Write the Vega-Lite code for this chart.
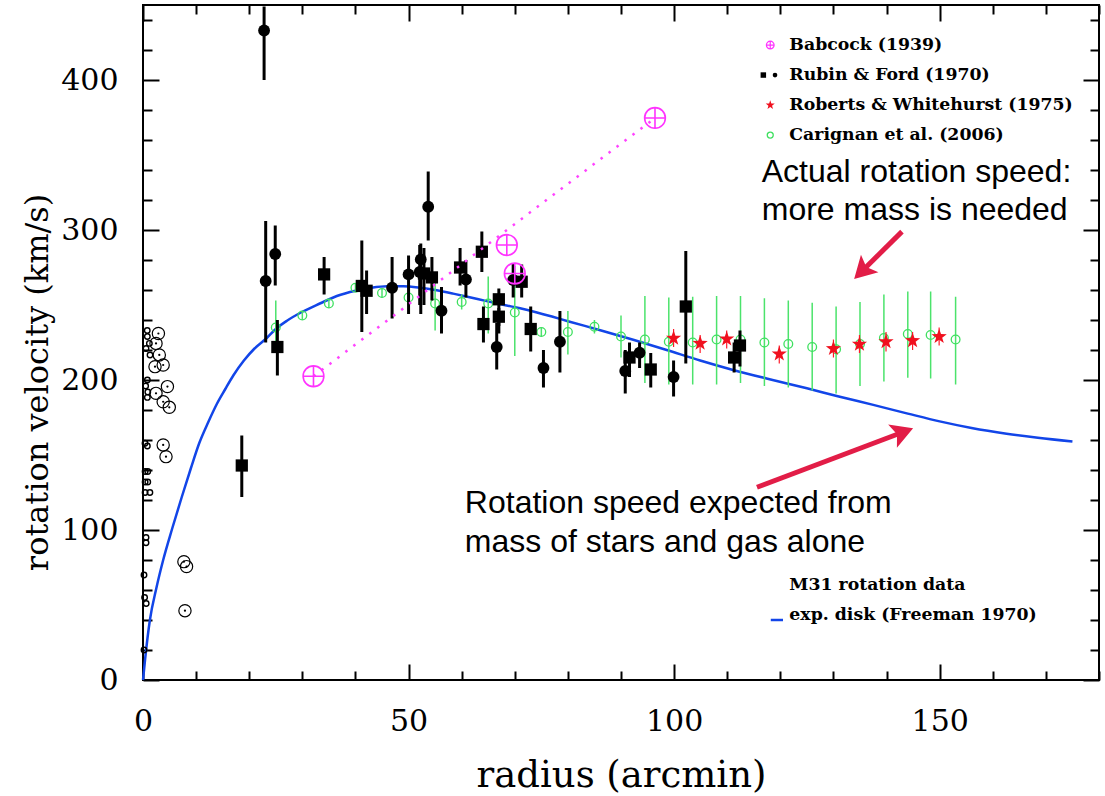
{
"$schema": "https://vega.github.io/schema/vega-lite/v6.json",
"width": 956, "height": 675,
"autosize": {"type": "none"},
"padding": {"left": 143, "top": 5, "right": 6, "bottom": 116},
"background": "white",
"config": {
  "view": {"stroke": "black", "strokeWidth": 2},
  "axis": {"grid": false, "domain": false, "tickColor": "black", "tickWidth": 2, "labelFont": "DejaVu Serif", "labelFontSize": 30, "labelColor": "black", "titleFont": "DejaVu Serif", "titleFontSize": 32, "titleFontWeight": "normal", "titleColor": "black", "labelFlush": false, "labelOverlap": false}
},
"datasets": {
  "curve": [{"r":0,"v":0},{"r":0.4,"v":14},{"r":1.3,"v":40},{"r":2.5,"v":61},{"r":3.8,"v":80},{"r":5.5,"v":101},{"r":7.3,"v":122},{"r":9,"v":141},{"r":10.6,"v":158},{"r":12.3,"v":172},{"r":13.9,"v":184},{"r":15.5,"v":194},{"r":17,"v":203},{"r":19,"v":213},{"r":21,"v":221},{"r":23.3,"v":228},{"r":25,"v":234},{"r":27.1,"v":239.5},{"r":30,"v":245.5},{"r":33.3,"v":251},{"r":36.5,"v":256},{"r":40,"v":259.5},{"r":43,"v":261.5},{"r":46,"v":262.5},{"r":49,"v":262.5},{"r":52.2,"v":261.5},{"r":55.3,"v":259.8},{"r":58.4,"v":257.6},{"r":61.5,"v":255.2},{"r":64.7,"v":252.6},{"r":68,"v":250},{"r":71,"v":247.8},{"r":74,"v":245.2},{"r":77,"v":242.3},{"r":80,"v":239.2},{"r":86.1,"v":233.2},{"r":92.3,"v":226.8},{"r":98.6,"v":220},{"r":104.9,"v":213},{"r":111.1,"v":206.7},{"r":117.4,"v":201},{"r":125,"v":194.5},{"r":131,"v":189},{"r":137.5,"v":183.4},{"r":144,"v":177.6},{"r":150,"v":172.4},{"r":156,"v":168},{"r":162.6,"v":164.2},{"r":168.5,"v":161.5},{"r":175,"v":159}],
  "rubinDots": [{"r":22.8,"v":433,"lo":400,"hi":449},{"r":23.1,"v":266,"lo":225,"hi":306},{"r":24.9,"v":284,"lo":263,"hi":303},{"r":46.9,"v":261.5,"lo":241,"hi":282},{"r":50,"v":270.4,"lo":244,"hi":283},{"r":52.3,"v":280.4,"lo":244,"hi":291},{"r":52.1,"v":272,"lo":250,"hi":290},{"r":53.7,"v":315.5,"lo":293,"hi":339},{"r":56.2,"v":246.2,"lo":231,"hi":262},{"r":60.8,"v":267,"lo":255,"hi":280},{"r":66.6,"v":222,"lo":207,"hi":238},{"r":69.7,"v":266.7,"lo":255,"hi":278},{"r":75.4,"v":208,"lo":195,"hi":220},{"r":78.5,"v":225.5,"lo":205,"hi":246},{"r":90.8,"v":206,"lo":191,"hi":220},{"r":93.5,"v":218.2,"lo":208,"hi":225},{"r":99.9,"v":202,"lo":189,"hi":213}],
  "rubinSquares": [{"r":18.6,"v":143,"lo":122,"hi":163},{"r":25.3,"v":222,"lo":203,"hi":240},{"r":34.1,"v":270.4,"lo":257,"hi":282},{"r":41.2,"v":262.7,"lo":232,"hi":293},{"r":42.1,"v":259.5,"lo":244,"hi":273},{"r":52.9,"v":271,"lo":250,"hi":288},{"r":54.4,"v":268.4,"lo":253,"hi":282},{"r":59.7,"v":275,"lo":263,"hi":288},{"r":63.8,"v":285.5,"lo":272,"hi":299},{"r":64.1,"v":237.3,"lo":225,"hi":249},{"r":67,"v":253.8,"lo":231,"hi":261},{"r":67,"v":242.2,"lo":236,"hi":248},{"r":71.3,"v":265.5,"lo":255,"hi":277},{"r":73,"v":234,"lo":219,"hi":249},{"r":91.6,"v":215,"lo":202,"hi":225},{"r":95.6,"v":207,"lo":195,"hi":218},{"r":102.2,"v":249,"lo":211,"hi":286},{"r":111.3,"v":215,"lo":205,"hi":225},{"r":112.4,"v":223,"lo":209,"hi":233}],
  "babcock": [{"r":32.1,"v":202.5},{"r":68.5,"v":290},{"r":70,"v":271},{"r":96.4,"v":374.7}],
  "roberts": [{"r":99.9,"v":227.8,"lo":222,"hi":234},{"r":104.9,"v":224.4,"lo":218,"hi":230},{"r":109.9,"v":227.3,"lo":221,"hi":233},{"r":119.8,"v":217.3,"lo":211,"hi":223},{"r":130,"v":220.9,"lo":215,"hi":227},{"r":134.9,"v":223.8,"lo":218,"hi":230},{"r":139.9,"v":225.5,"lo":219,"hi":232},{"r":144.9,"v":226.2,"lo":220,"hi":232},{"r":149.9,"v":228.9,"lo":223,"hi":235}],
  "carignan": [{"r":25,"v":235,"lo":218,"hi":253},{"r":30,"v":243,"lo":240,"hi":246},{"r":35,"v":251,"lo":248,"hi":254},{"r":40,"v":261.5,"lo":259,"hi":264},{"r":45,"v":258,"lo":255,"hi":261},{"r":50,"v":255,"lo":250,"hi":260},{"r":55,"v":251,"lo":233,"hi":269},{"r":60,"v":252,"lo":247,"hi":257},{"r":65,"v":251,"lo":231,"hi":269},{"r":70,"v":245,"lo":216,"hi":276},{"r":75,"v":232,"lo":229,"hi":235},{"r":80,"v":232,"lo":217,"hi":246},{"r":85,"v":235.5,"lo":231,"hi":240},{"r":90,"v":229,"lo":215,"hi":243},{"r":94.5,"v":227,"lo":198,"hi":256},{"r":99,"v":225.5,"lo":197,"hi":255},{"r":103.5,"v":225,"lo":197,"hi":255.5},{"r":108,"v":227,"lo":197,"hi":256},{"r":112.5,"v":227,"lo":198,"hi":256},{"r":117,"v":225,"lo":196,"hi":254.5},{"r":121.5,"v":224,"lo":195,"hi":253},{"r":126,"v":222,"lo":193,"hi":251.5},{"r":130.5,"v":220.5,"lo":191,"hi":249},{"r":135,"v":224,"lo":196,"hi":252},{"r":139.5,"v":228,"lo":199,"hi":257},{"r":144,"v":230.7,"lo":201.5,"hi":259},{"r":148.3,"v":230,"lo":201,"hi":259},{"r":153,"v":227,"lo":197,"hi":255.5}],
  "innerLarge": [{"r":2.9,"v":231},{"r":2.45,"v":224.4},{"r":3.07,"v":216.7},{"r":2.26,"v":208.9},{"r":3.8,"v":210},{"r":4.6,"v":195.6},{"r":2.45,"v":191.1},{"r":3.8,"v":185.5},{"r":4.95,"v":181.8},{"r":3.8,"v":156.7},{"r":4.33,"v":148.9},{"r":7.7,"v":78.9},{"r":8.2,"v":75.6},{"r":7.9,"v":46.2}],
  "innerSmall": [{"r":0.8,"v":233},{"r":0.82,"v":229},{"r":1.2,"v":224.4},{"r":0.57,"v":221},{"r":1.32,"v":216.7},{"r":0.82,"v":200},{"r":0.5,"v":196},{"r":0.9,"v":192},{"r":0.82,"v":188.4},{"r":0.38,"v":157.8},{"r":0.82,"v":156},{"r":0.4,"v":139},{"r":0.9,"v":139},{"r":0.4,"v":132},{"r":0.9,"v":132},{"r":1.3,"v":125},{"r":0.4,"v":125},{"r":0.57,"v":95},{"r":0.57,"v":91.5},{"r":0.19,"v":70},{"r":0.3,"v":55},{"r":0.6,"v":51},{"r":0.19,"v":20}],
  "keys": [{"series":"babcock","r":118.1,"v":423.3},{"series":"rubinSq","r":116.8,"v":403.3},{"series":"rubinDot","r":119.0,"v":403.3},{"series":"roberts","r":118.1,"v":383.3},{"series":"carignan","r":118.1,"v":363.3}],
  "keyText": [{"r":121.7,"v":423.3,"label":"Babcock (1939)"},{"r":121.7,"v":403.3,"label":"Rubin & Ford (1970)"},{"r":121.7,"v":383.3,"label":"Roberts & Whitehurst (1975)"},{"r":121.7,"v":363.3,"label":"Carignan et al. (2006)"},{"r":121.7,"v":63.3,"label":"M31 rotation data"},{"r":121.7,"v":43.3,"label":"exp. disk (Freeman 1970)"}],
  "diskKey": [{"r":118.2,"v":40,"r2":120.5}],
  "notes": [{"r":116.5,"v":338.7,"text":"Actual rotation speed:"},{"r":116.5,"v":313.3,"text":"more mass is needed"},{"r":60.6,"v":118,"text":"Rotation speed expected from"},{"r":60.6,"v":92,"text":"mass of stars and gas alone"}],
  "arrows": [{"id":"actual","r":142.9,"v":298.9,"r2":135.5,"v2":273,"tipR":133.9,"tipV":267.3},{"id":"expected","r":115.6,"v":128.5,"r2":142.9,"v2":165,"tipR":145.0,"tipV":167.8}]
},
"resolve": {"axis": {"x": "independent", "y": "independent"}},
"layer": [
  {"data": {"name": "curve"},
   "mark": {"type": "line", "color": "#1245e8", "strokeWidth": 2.5, "interpolate": "monotone"},
   "encoding": {
     "x": {"field": "r", "type": "quantitative", "scale": {"domain": [0, 180], "nice": false, "zero": false},
           "axis": {"orient": "bottom", "values": [0,10,20,30,40,50,60,70,80,90,100,110,120,130,140,150,160,170,180],
                    "tickSize": {"condition": {"test": "datum.value % 50 === 0", "value": -16}, "value": -9},
                    "labelExpr": "datum.value % 50 === 0 ? datum.label : ''", "labelPadding": 42,
                    "title": "radius (arcmin)", "titleFontSize": 37, "titlePadding": 14}},
     "y": {"field": "v", "type": "quantitative", "scale": {"domain": [0, 450], "nice": false},
           "axis": {"orient": "left", "values": [0,20,40,60,80,100,120,140,160,180,200,220,240,260,280,300,320,340,360,380,400,420,440],
                    "tickSize": {"condition": {"test": "datum.value % 100 === 0", "value": -16}, "value": -9},
                    "labelExpr": "datum.value % 100 === 0 ? datum.label : ''", "labelPadding": 41,
                    "title": "rotation velocity (km/s)", "titlePadding": 6, "titleY": 377}}
   }},
  {"data": {"name": "carignan"},
   "mark": {"type": "rule", "color": "#4be36b", "strokeWidth": 1.5},
   "encoding": {
     "x": {"field": "r", "type": "quantitative", "scale": {"domain": [0, 180], "nice": false, "zero": false},
           "axis": {"orient": "top", "values": [0,10,20,30,40,50,60,70,80,90,100,110,120,130,140,150,160,170,180],
                    "tickSize": {"condition": {"test": "datum.value % 50 === 0", "value": -16}, "value": -9},
                    "labels": false, "title": null}},
     "y": {"field": "lo", "type": "quantitative", "scale": {"domain": [0, 450], "nice": false},
           "axis": {"orient": "right", "values": [0,20,40,60,80,100,120,140,160,180,200,220,240,260,280,300,320,340,360,380,400,420,440],
                    "tickSize": {"condition": {"test": "datum.value % 100 === 0", "value": -16}, "value": -9},
                    "labels": false, "title": null}},
     "y2": {"field": "hi"}
   }},
  {"data": {"name": "carignan"},
   "mark": {"type": "point", "shape": "circle", "filled": false, "color": "#3fe060", "size": 76, "strokeWidth": 1.3, "opacity": 1},
   "encoding": {"x": {"field": "r", "type": "quantitative", "axis": null}, "y": {"field": "v", "type": "quantitative", "axis": null}}},
  {"data": {"name": "innerLarge"},
   "mark": {"type": "point", "shape": "circle", "filled": false, "color": "black", "size": 150, "strokeWidth": 1.2, "opacity": 1},
   "encoding": {"x": {"field": "r", "type": "quantitative", "axis": null}, "y": {"field": "v", "type": "quantitative", "axis": null}}},
  {"data": {"name": "innerLarge"},
   "mark": {"type": "point", "shape": "circle", "filled": true, "color": "black", "size": 5, "opacity": 1},
   "encoding": {"x": {"field": "r", "type": "quantitative", "axis": null}, "y": {"field": "v", "type": "quantitative", "axis": null}}},
  {"data": {"name": "innerSmall"},
   "mark": {"type": "point", "shape": "circle", "filled": false, "color": "black", "size": 30, "strokeWidth": 1.4, "opacity": 1},
   "encoding": {"x": {"field": "r", "type": "quantitative", "axis": null}, "y": {"field": "v", "type": "quantitative", "axis": null}}},
  {"data": {"name": "rubinDots"},
   "mark": {"type": "rule", "color": "black", "strokeWidth": 3},
   "encoding": {"x": {"field": "r", "type": "quantitative", "axis": null}, "y": {"field": "lo", "type": "quantitative", "axis": null}, "y2": {"field": "hi"}}},
  {"data": {"name": "rubinSquares"},
   "mark": {"type": "rule", "color": "black", "strokeWidth": 3},
   "encoding": {"x": {"field": "r", "type": "quantitative", "axis": null}, "y": {"field": "lo", "type": "quantitative", "axis": null}, "y2": {"field": "hi"}}},
  {"data": {"name": "rubinDots"},
   "mark": {"type": "point", "shape": "circle", "filled": true, "color": "black", "size": 140, "opacity": 1},
   "encoding": {"x": {"field": "r", "type": "quantitative", "axis": null}, "y": {"field": "v", "type": "quantitative", "axis": null}}},
  {"data": {"name": "rubinSquares"},
   "mark": {"type": "point", "shape": "square", "filled": true, "color": "black", "size": 150, "opacity": 1},
   "encoding": {"x": {"field": "r", "type": "quantitative", "axis": null}, "y": {"field": "v", "type": "quantitative", "axis": null}}},
  {"data": {"name": "roberts"},
   "mark": {"type": "rule", "color": "#ff1a2a", "strokeWidth": 1.2},
   "encoding": {"x": {"field": "r", "type": "quantitative", "axis": null}, "y": {"field": "lo", "type": "quantitative", "axis": null}, "y2": {"field": "hi"}}},
  {"data": {"name": "roberts"},
   "mark": {"type": "point", "shape": "M0,-1L0.235,-0.324L0.951,-0.309L0.38,0.124L0.588,0.809L0,0.4L-0.588,0.809L-0.38,0.124L-0.951,-0.309L-0.235,-0.324Z", "filled": true, "color": "#f0101e", "size": 256, "opacity": 1},
   "encoding": {"x": {"field": "r", "type": "quantitative", "axis": null}, "y": {"field": "v", "type": "quantitative", "axis": null}}},
  {"data": {"name": "babcock"},
   "transform": [{"filter": "datum.r < 60 || datum.r > 90"}],
   "mark": {"type": "line", "color": "#ff44ff", "strokeWidth": 2.5, "strokeDash": [2.5, 7.5]},
   "encoding": {"x": {"field": "r", "type": "quantitative", "axis": null}, "y": {"field": "v", "type": "quantitative", "axis": null}}},
  {"data": {"name": "babcock"},
   "mark": {"type": "point", "shape": "M-1,0A1,1,0,1,1,1,0A1,1,0,1,1,-1,0ZM-1,0L1,0M0,-1L0,1", "filled": false, "color": "#ff33ff", "size": 430, "strokeWidth": 1.6, "opacity": 1},
   "encoding": {"x": {"field": "r", "type": "quantitative", "axis": null}, "y": {"field": "v", "type": "quantitative", "axis": null}}},
  {"data": {"name": "keys"},
   "transform": [{"filter": "datum.series === 'babcock'"}],
   "mark": {"type": "point", "shape": "M-1,0A1,1,0,1,1,1,0A1,1,0,1,1,-1,0ZM-1,0L1,0M0,-1L0,1", "filled": false, "color": "#ff33ff", "size": 60, "strokeWidth": 1.2, "opacity": 1},
   "encoding": {"x": {"field": "r", "type": "quantitative", "axis": null}, "y": {"field": "v", "type": "quantitative", "axis": null}}},
  {"data": {"name": "keys"},
   "transform": [{"filter": "datum.series === 'rubinSq'"}],
   "mark": {"type": "point", "shape": "square", "filled": true, "color": "black", "size": 30, "opacity": 1},
   "encoding": {"x": {"field": "r", "type": "quantitative", "axis": null}, "y": {"field": "v", "type": "quantitative", "axis": null}}},
  {"data": {"name": "keys"},
   "transform": [{"filter": "datum.series === 'rubinDot'"}],
   "mark": {"type": "point", "shape": "circle", "filled": true, "color": "black", "size": 22, "opacity": 1},
   "encoding": {"x": {"field": "r", "type": "quantitative", "axis": null}, "y": {"field": "v", "type": "quantitative", "axis": null}}},
  {"data": {"name": "keys"},
   "transform": [{"filter": "datum.series === 'roberts'"}],
   "mark": {"type": "point", "shape": "M0,-1L0.235,-0.324L0.951,-0.309L0.38,0.124L0.588,0.809L0,0.4L-0.588,0.809L-0.38,0.124L-0.951,-0.309L-0.235,-0.324Z", "filled": true, "color": "#f0101e", "size": 90, "opacity": 1},
   "encoding": {"x": {"field": "r", "type": "quantitative", "axis": null}, "y": {"field": "v", "type": "quantitative", "axis": null}}},
  {"data": {"name": "keys"},
   "transform": [{"filter": "datum.series === 'carignan'"}],
   "mark": {"type": "point", "shape": "circle", "filled": false, "color": "#3fe060", "size": 36, "strokeWidth": 1.3, "opacity": 1},
   "encoding": {"x": {"field": "r", "type": "quantitative", "axis": null}, "y": {"field": "v", "type": "quantitative", "axis": null}}},
  {"data": {"name": "diskKey"},
   "mark": {"type": "rule", "color": "#1245e8", "strokeWidth": 2.5},
   "encoding": {"x": {"field": "r", "type": "quantitative", "axis": null}, "x2": {"field": "r2"}, "y": {"field": "v", "type": "quantitative", "axis": null}}},
  {"data": {"name": "keyText"},
   "mark": {"type": "text", "align": "left", "baseline": "middle", "font": "DejaVu Serif", "fontWeight": "bold", "fontSize": 17.3, "color": "black"},
   "encoding": {"x": {"field": "r", "type": "quantitative", "axis": null}, "y": {"field": "v", "type": "quantitative", "axis": null}, "text": {"field": "label"}}},
  {"data": {"name": "notes"},
   "mark": {"type": "text", "align": "left", "baseline": "middle", "font": "Liberation Sans", "fontSize": 32, "color": "black"},
   "encoding": {"x": {"field": "r", "type": "quantitative", "axis": null}, "y": {"field": "v", "type": "quantitative", "axis": null}, "text": {"field": "text"}}},
  {"data": {"name": "arrows"},
   "mark": {"type": "rule", "color": "#e21d47", "strokeWidth": 5, "strokeCap": "butt"},
   "encoding": {"x": {"field": "r", "type": "quantitative", "axis": null}, "y": {"field": "v", "type": "quantitative", "axis": null}, "x2": {"field": "r2"}, "y2": {"field": "v2"}}},
  {"data": {"name": "arrows"},
   "transform": [{"filter": "datum.id === 'actual'"}],
   "mark": {"type": "point", "shape": "M0,0L0.9,1.6L0,1.25L-0.9,1.6Z", "filled": true, "color": "#e21d47", "size": 756, "angle": 225, "opacity": 1},
   "encoding": {"x": {"field": "tipR", "type": "quantitative", "axis": null}, "y": {"field": "tipV", "type": "quantitative", "axis": null}}},
  {"data": {"name": "arrows"},
   "transform": [{"filter": "datum.id === 'expected'"}],
   "mark": {"type": "point", "shape": "M0,0L0.9,1.6L0,1.25L-0.9,1.6Z", "filled": true, "color": "#e21d47", "size": 756, "angle": 69.3, "opacity": 1},
   "encoding": {"x": {"field": "tipR", "type": "quantitative", "axis": null}, "y": {"field": "tipV", "type": "quantitative", "axis": null}}}
]
}
